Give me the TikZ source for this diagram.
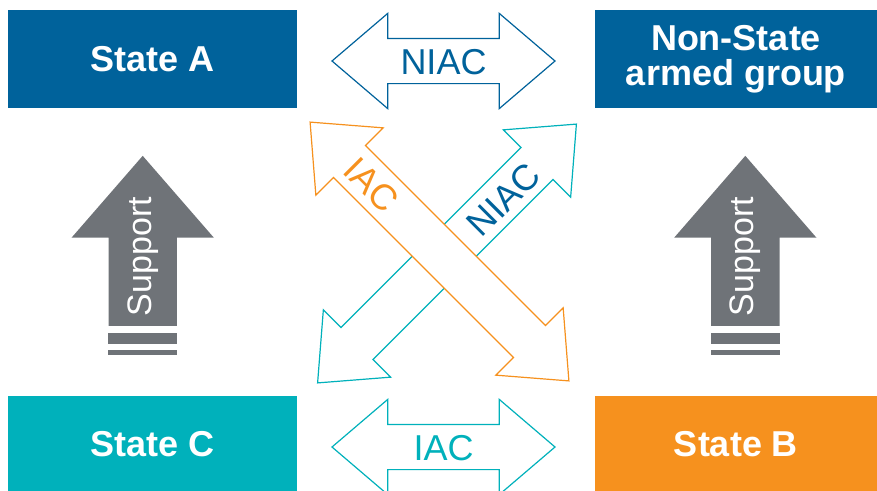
\documentclass[tikz,border=0pt]{standalone}
\usepackage{fontspec}
\setmainfont{Liberation Sans}
\usetikzlibrary{shapes.arrows,positioning}
\definecolor{niacblue}{RGB}{0,98,155}
\definecolor{iacteal}{RGB}{0,177,187}
\definecolor{iacorange}{RGB}{246,145,30}
\definecolor{supportgray}{RGB}{111,115,120}

\begin{document}
\begin{tikzpicture}[x=1pt,y=-1pt,
        box/.style={rectangle, inner sep=0pt, text=white, align=center,
            font=\fontsize{36}{35}\selectfont\bfseries},
        dblarrow/.style={double arrow, draw, fill=white, line width=1.2pt, inner sep=0pt,
            text height=35pt, text depth=9pt,
            minimum width=94pt, minimum height=223pt,
            double arrow head extend=25pt, double arrow tip angle=81,
            font=\fontsize{36}{36}\selectfont},
        diagarrow/.style={dblarrow, minimum height=366pt, text height=22pt, text depth=22pt},
        arrowtext/.style={inner sep=0pt, font=\fontsize{36}{36}\selectfont},
        supportarrow/.style={single arrow, fill=supportgray, inner sep=0pt, rotate=90,
            text height=34pt, text depth=34pt,
            minimum width=142pt, minimum height=170pt,
            single arrow head extend=37pt, single arrow tip angle=82},
        supporttext/.style={inner sep=0pt, text=white, rotate=90,
            font=\fontsize{34}{34}\selectfont}]
        \useasboundingbox (0,0) rectangle (877,490);
        % the four parties
        \node[box, fill=niacblue, minimum width=289pt, minimum height=98pt] (stateA) at (152.5,59) {State A};
        \node[box, fill=niacblue, minimum width=282pt, minimum height=98pt] (nsag) at (736,59) {Non-State\\armed group};
        \node[box, fill=iacteal, minimum width=289pt, minimum height=96pt] (stateC) at (152.5,444) {State C};
        \node[box, fill=iacorange, minimum width=282pt, minimum height=96pt] (stateB) at (736,444) {State B};
        % horizontal conflicts
        \node[dblarrow, draw=niacblue, text=niacblue] (niacTop) at (443.5,61) {NIAC};
        \node[dblarrow, draw=iacteal, text=iacteal] (iacBottom) at (443.5,447) {IAC};
        % diagonal conflicts
        \node[diagarrow, draw=iacteal, rotate=45] (niacDiag) at (447,253.5) {};
        \node[diagarrow, draw=iacorange, rotate=-45] (iacDiag) at (439.5,251.5) {};
        \node[arrowtext, text=iacorange, rotate=-45] (iacLabel) at (371.7,185) {IAC};
        \node[arrowtext, text=niacblue, rotate=45] (niacLabel) at (503.3,199.5) {NIAC};
        % support
        \node[supportarrow] (supportLeft) at (142.7,260.5) {};
        \node[supportarrow] (supportRight) at (745.3,260.5) {};
        \node[supporttext] (supportLeftText) at (142.7,256.7) {Support};
        \node[supporttext] (supportRightText) at (745.3,256.7) {Support};
        \fill[supportgray] (108,332.7) rectangle (177,344);
        \fill[supportgray] (108,350) rectangle (177,355);
        \fill[supportgray] (711,332.7) rectangle (780,344);
        \fill[supportgray] (711,350) rectangle (780,355);
\end{tikzpicture}
\end{document}
